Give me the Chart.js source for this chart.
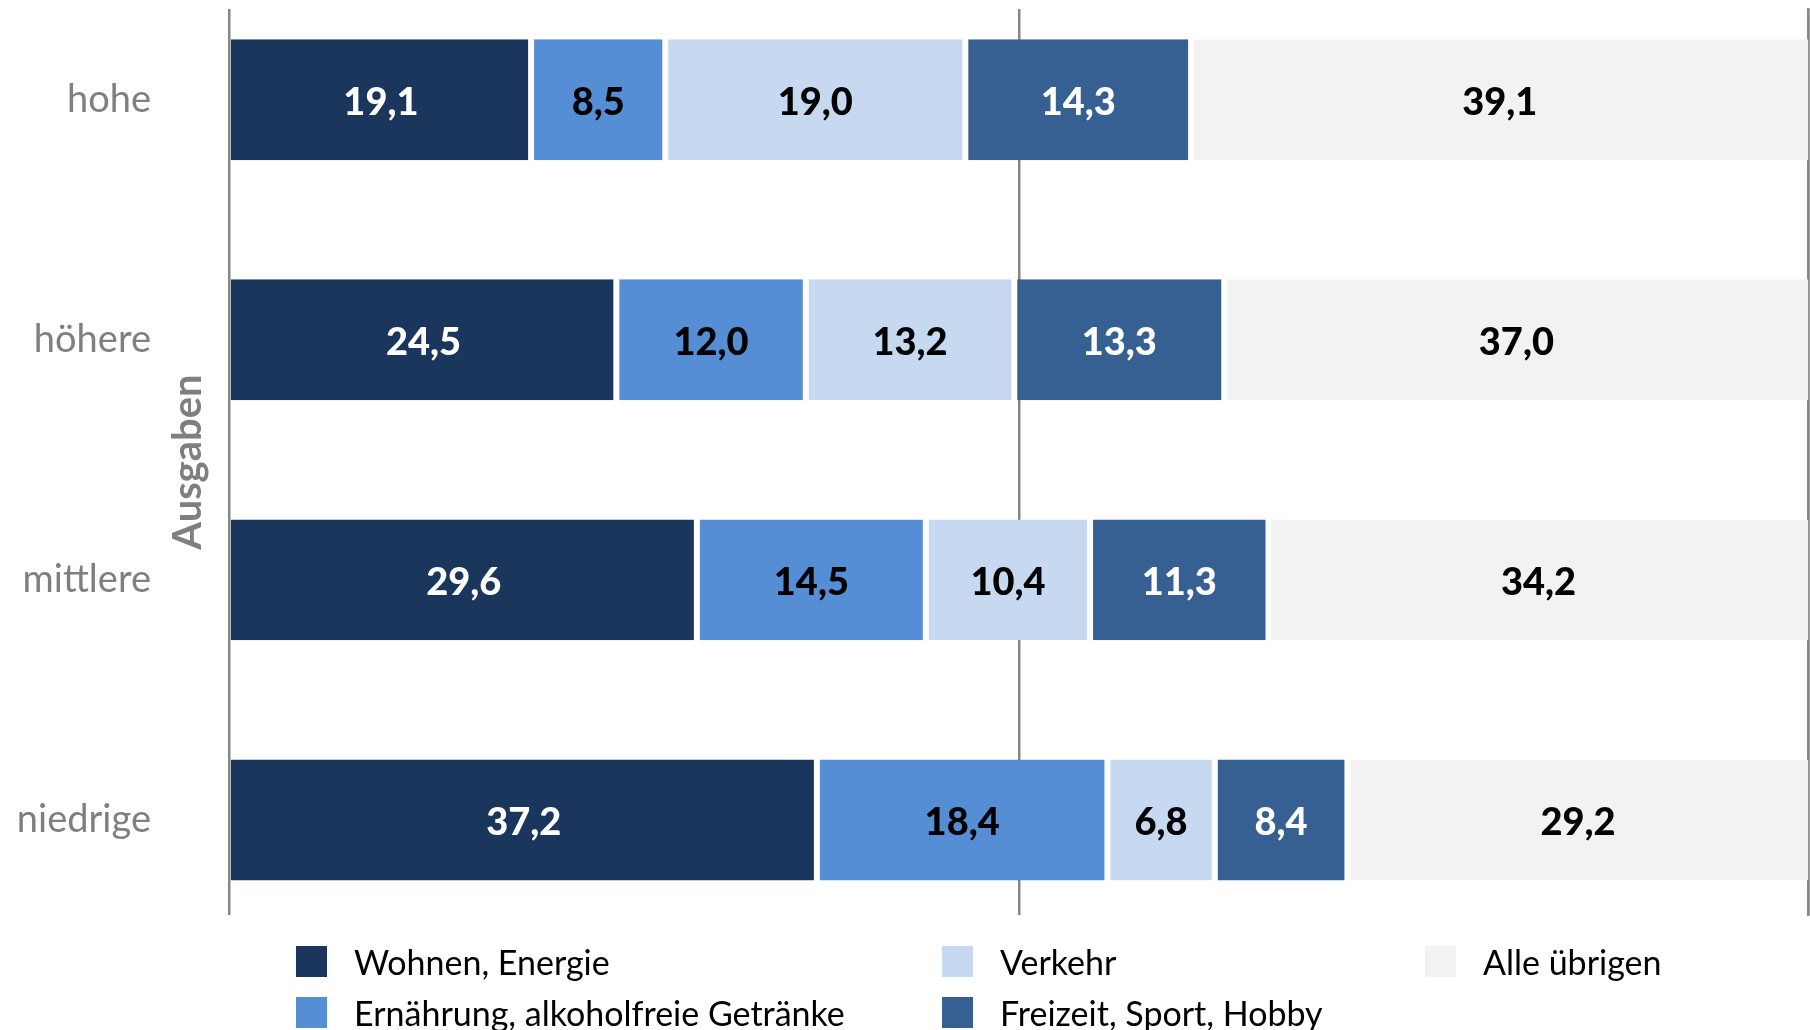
<!DOCTYPE html>
<html>
<head>
<meta charset="utf-8">
<script src="https://cdn.jsdelivr.net/npm/chart.js@4/dist/chart.umd.min.js"></script>
<style>
  html, body { margin: 0; padding: 0; background: #ffffff; overflow: hidden; }
  #wrap { position: relative; width: 1810px; height: 1030px; }
  #legend { position: absolute; left: 0; top: 0; width: 1810px; height: 1030px; pointer-events: none;
            font-family: Lato, sans-serif; font-size: 34px; color: #000; }
  .li { position: absolute; display: flex; align-items: center; height: 31px; white-space: nowrap; }
  .li .box { width: 31px; height: 31px; margin-right: 27px; flex: none; }
</style>
</head>
<body>
<div id="wrap">
  <canvas id="c" width="1810" height="1030"></canvas>
  <div id="legend"></div>
</div>
<script>
// ---- data ----
const categories = ['hohe', 'höhere', 'mittlere', 'niedrige'];
const seriesNames = ['Wohnen, Energie', 'Ernährung, alkoholfreie Getränke', 'Verkehr', 'Freizeit, Sport, Hobby', 'Alle übrigen'];
const wohnenEnergie = [19.1, 24.5, 29.6, 37.2];
const ernaehrung = [8.5, 12.0, 14.5, 18.4];
const verkehr = [19.0, 13.2, 10.4, 6.8];
const freizeit = [14.3, 13.3, 11.3, 8.4];
const alleUebrigen = [39.1, 37.0, 34.2, 29.2];
const xTicks = [0, 50, 100];
const axisTitle = 'Ausgaben';

// ---- styles ----
const seriesValues = [wohnenEnergie, ernaehrung, verkehr, freizeit, alleUebrigen];
const seriesColors = ['#1A365D', '#558ED5', '#C6D9F1', '#376092', '#F2F2F2'];
const labelColors = ['#ffffff', '#000000', '#000000', '#ffffff', '#000000'];
const gridColor = '#868686';
const catIdx = categories.map((_, i) => i);

const datasets = seriesNames.map((name, s) => ({
  label: name,
  data: seriesValues[s].map((v, i) => ({ x: v, y: i })),
  backgroundColor: seriesColors[s],
  borderColor: '#ffffff',
  borderWidth: { top: 0, bottom: 0, left: s === 0 ? 0 : 3, right: s === seriesNames.length - 1 ? 0 : 3 },
  borderSkipped: false,
  categoryPercentage: 1,
  barPercentage: 0.504
}));

const fmt = v => v.toFixed(1).replace('.', ',');

const valueLabels = {
  id: 'valueLabels',
  afterDatasetsDraw(chart) {
    const ctx = chart.ctx;
    ctx.save();
    ctx.font = '900 38px Lato, sans-serif';
    ctx.textAlign = 'center';
    ctx.textBaseline = 'middle';
    chart.data.datasets.forEach((ds, s) => {
      const meta = chart.getDatasetMeta(s);
      meta.data.forEach((bar, j) => {
        const p = bar.getCenterPoint();
        ctx.fillStyle = labelColors[s];
        ctx.fillText(fmt(seriesValues[s][j]), p.x, p.y + 3);
      });
    });
    ctx.restore();
  }
};

const setTicks = scale => { scale.ticks = catIdx.map(v => ({ value: v })); };
const fixY = w => s => { s.width = w; s.paddingTop = 0; s.paddingBottom = 0; };
const yMin = -0.378, yMax = 3.396;

const chart = new Chart(document.getElementById('c'), {
  type: 'bar',
  data: { datasets },
  options: {
    indexAxis: 'y',
    responsive: false,
    animation: false,
    events: [],
    layout: { padding: { top: 9, right: 1.5, bottom: 115, left: 0 } },
    plugins: { legend: { display: false }, tooltip: { enabled: false }, title: { display: false } },
    scales: {
      x: {
        type: 'linear', stacked: true, min: 0, max: 100,
        afterBuildTicks: s => { s.ticks = xTicks.map(v => ({ value: v })); },
        afterFit: s => { s.height = 0; s.paddingLeft = 0; s.paddingRight = 0; },
        ticks: { display: false },
        border: { display: false },
        grid: { display: true, drawTicks: false, color: gridColor, lineWidth: 2.5 }
      },
      y: {
        type: 'linear', axis: 'y', position: 'left', weight: 0, stacked: true, offset: false,
        reverse: true, min: yMin, max: yMax,
        afterBuildTicks: setTicks,
        afterFit: fixY(69.5),
        ticks: { display: false },
        grid: { display: false, drawTicks: false },
        border: { display: false },
        title: { display: true, text: axisTitle, color: '#7F7F7F', padding: { top: 4, bottom: 4 },
                 font: { family: 'Lato, sans-serif', size: 40, weight: 'bold' } }
      },
      y2: {
        type: 'linear', axis: 'y', position: 'left', weight: 1, offset: false,
        reverse: true, min: yMin, max: yMax,
        afterBuildTicks: setTicks,
        afterFit: fixY(160),
        ticks: { display: true, padding: 9, color: '#7F7F7F', autoSkip: false,
                 font: { family: 'Lato, sans-serif', size: 38 },
                 callback: v => categories[v] },
        grid: { display: false, drawTicks: false },
        border: { display: false }
      },
      yRight: {
        type: 'linear', axis: 'y', position: 'right', offset: false, z: 1,
        reverse: true, min: yMin, max: yMax,
        afterBuildTicks: setTicks,
        afterFit: fixY(0),
        ticks: { display: false },
        grid: { display: false, drawTicks: false },
        border: { display: true, color: gridColor, width: 2.5 }
      }
    }
  },
  plugins: [valueLabels]
});

// ---- legend (column-major, 3 columns x 2 rows) ----
const legendCols = [296, 942, 1425];
const legendRows = [946, 997];
const legendEl = document.getElementById('legend');
chart.data.datasets.forEach((ds, i) => {
  const col = Math.floor(i / 2), row = i % 2;
  const item = document.createElement('div');
  item.className = 'li';
  item.style.left = legendCols[col] + 'px';
  item.style.top = legendRows[row] + 'px';
  const box = document.createElement('span');
  box.className = 'box';
  box.style.background = ds.backgroundColor;
  const txt = document.createElement('span');
  txt.textContent = ds.label;
  item.appendChild(box);
  item.appendChild(txt);
  legendEl.appendChild(item);
});
</script>
</body>
</html>
